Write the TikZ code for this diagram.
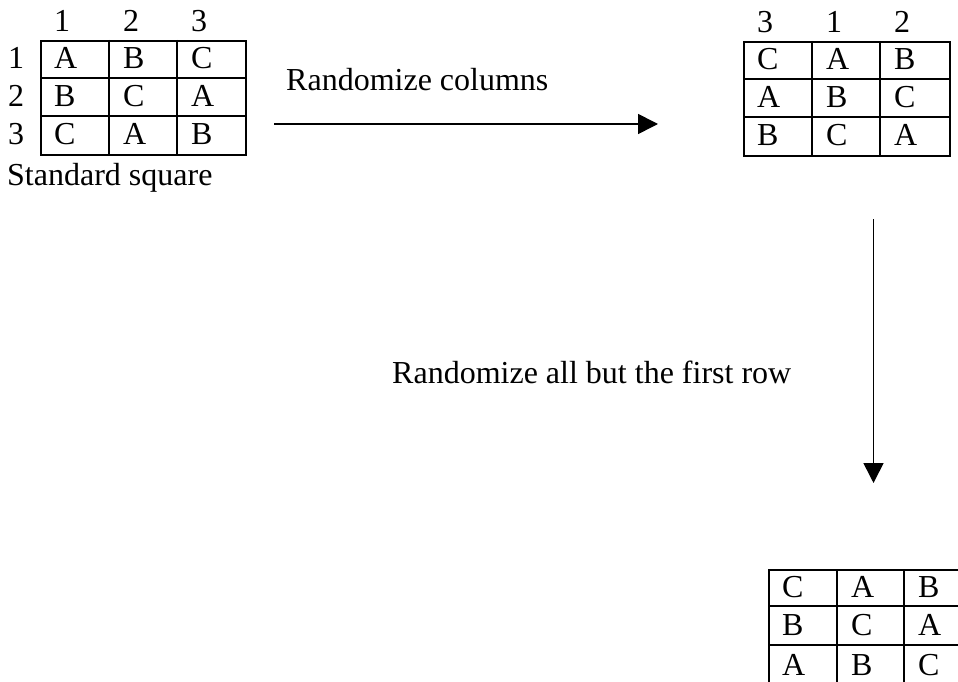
\documentclass[tikz,border=0pt]{standalone}
\usepackage{fontspec}
\setmainfont{Liberation Serif}
\usetikzlibrary{arrows.meta}
\begin{document}
\begin{tikzpicture}[x=1pt,y=-1pt,
  txt/.style={anchor=base west,inner sep=0pt,font=\fontsize{32}{38}\selectfont},
  gridline/.style={line width=2pt},
  tablebox/.style={draw,line width=2pt,inner sep=0pt,anchor=north west},
  arr/.style={line width=1.6pt,-{Triangle[length=20pt,width=20pt]}}]
\useasboundingbox (0,0) rectangle (958,682);

% ---------- Table 1 (standard square) ----------
\node[tablebox,minimum width=205pt,minimum height=114pt] (T1) at (40,40) {};
\draw[gridline] (109,40) -- (109,154) (177,40) -- (177,154)
                (40,78) -- (245,78) (40,116) -- (245,116);
\foreach \c/\x in {1/40,2/109,3/177}
  \node[txt] (T1h\c) at (\x+14,32) {\c};
\foreach \r/\y in {1/69,2/107,3/145}
  \node[txt] (T1r\r) at (8,\y) {\r};
\foreach \a/\b/\cc [count=\r] in {A/B/C,B/C/A,C/A/B}{
  \pgfmathsetmacro{\yy}{31+38*\r}
  \node[txt] (T1a\r) at (54,\yy) {\a};
  \node[txt] (T1b\r) at (123,\yy) {\b};
  \node[txt] (T1c\r) at (191,\yy) {\cc};
}
\node[txt] (std) at (7,185) {Standard square};

% ---------- Table 2 ----------
\node[tablebox,minimum width=206pt,minimum height=114pt] (T2) at (743,41) {};
\draw[gridline] (812,41) -- (812,155) (880,41) -- (880,155)
                (743,79) -- (949,79) (743,117) -- (949,117);
\node[txt] (T2h1) at (757,33) {3};
\node[txt] (T2h2) at (826,33) {1};
\node[txt] (T2h3) at (894,33) {2};
\foreach \a/\b/\cc [count=\r] in {C/A/B,A/B/C,B/C/A}{
  \pgfmathsetmacro{\yy}{32+38*\r}
  \node[txt] (T2a\r) at (757,\yy) {\a};
  \node[txt] (T2b\r) at (826,\yy) {\b};
  \node[txt] (T2c\r) at (894,\yy) {\cc};
}

% ---------- Table 3 ----------
\node[tablebox,minimum width=203pt,minimum height=115pt] (T3) at (768,569) {};
\draw[gridline] (837,569) -- (837,684) (904,569) -- (904,684)
                (768,606) -- (971,606) (768,645) -- (971,645);
\node[txt] (T3a1) at (782,597) {C};
\node[txt] (T3b1) at (851,597) {A};
\node[txt] (T3c1) at (918,597) {B};
\node[txt] (T3a2) at (782,635) {B};
\node[txt] (T3b2) at (851,635) {C};
\node[txt] (T3c2) at (918,635) {A};
\node[txt] (T3a3) at (782,675) {A};
\node[txt] (T3b3) at (851,675) {B};
\node[txt] (T3c3) at (918,675) {C};

% ---------- Arrows and labels ----------
\coordinate (h1) at (274,124);
\coordinate (h2) at (658,124);
\draw[arr] (h1) -- (h2);
\node[txt] (lab1) at (286,91) {Randomize columns};

\coordinate (v1) at (873.5,219);
\coordinate (v2) at (873.5,483);
\draw[arr] (v1) -- (v2);
\node[txt] (lab2) at (392,383) {Randomize all but the first row};
\end{tikzpicture}
\end{document}
